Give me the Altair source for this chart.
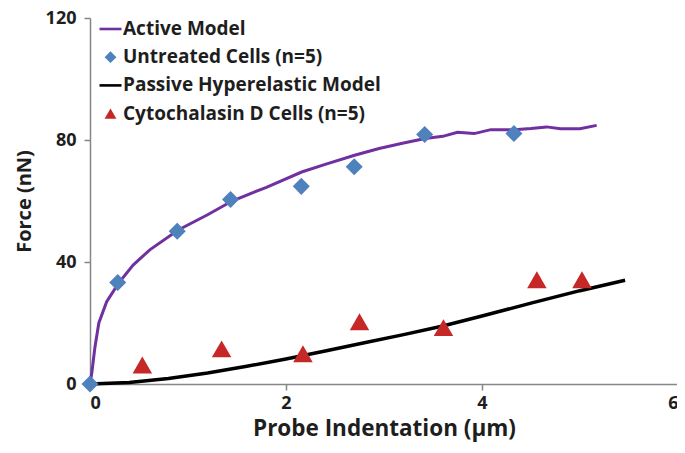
import altair as alt
import pandas as pd

# ---- data ----
series_names = ["Active Model", "Untreated Cells (n=5)",
                "Passive Hyperelastic Model", "Cytochalasin D Cells (n=5)"]

active_x = [0, 0.02, 0.05, 0.09, 0.17, 0.29, 0.44, 0.61, 0.9, 1.2, 1.45, 1.8,
            2.16, 2.4, 2.7, 2.95, 3.2, 3.42, 3.6, 3.75, 3.92, 4.09, 4.33, 4.5,
            4.66, 4.8, 5.0, 5.17]
active_y = [0, 4, 12, 20, 27, 33, 39, 44, 50.5, 55.5, 60, 64.5,
            69.5, 72, 75, 77.2, 79, 80.5, 81.2, 82.5, 82.1, 83.4, 83.4, 83.8,
            84.3, 83.7, 83.7, 84.8]

untreated_x = [0, 0.283, 0.89, 1.434, 2.156, 2.696, 3.415, 4.326]
untreated_y = [0, 33.3, 50.1, 60.5, 64.8, 71.2, 81.8, 82.1]

passive_x = [0, 0.4, 0.8, 1.2, 1.6, 2.0, 2.4, 2.8, 3.2, 3.6, 4.0, 4.5, 5.0, 5.46]
passive_y = [0, 0.5, 1.8, 3.6, 5.8, 8.2, 10.8, 13.5, 16.2, 19.0, 22.3, 26.5, 30.6, 34.0]

cyto_x = [0.534, 1.343, 2.173, 2.75, 3.607, 4.56, 5.02]
cyto_y = [6.25, 11.5, 9.9, 20.4, 18.5, 34.2, 34.2]

x_ticks = [0, 2, 4, 6]
y_ticks = [0, 40, 80, 120]

colors = ["#7030A0", "#4F81BD", "#000000", "#C62828"]
line_path = "M-1.86,-0.22H1.86V0.22H-1.86Z"
shapes = [line_path, "diamond", line_path, "triangle-up"]

FONT = "Open Sans"

active_df = pd.DataFrame({"x": active_x, "y": active_y, "series": series_names[0]})
untreated_df = pd.DataFrame({"x": untreated_x, "y": untreated_y, "series": series_names[1]})
passive_df = pd.DataFrame({"x": passive_x, "y": passive_y, "series": series_names[2]})
cyto_df = pd.DataFrame({"x": cyto_x, "y": cyto_y, "series": series_names[3]})

x_enc = alt.X("x:Q", title="Probe Indentation (µm)",
              scale=alt.Scale(domain=[0, 6], nice=False),
              axis=alt.Axis(values=x_ticks, grid=False, titlePadding=5,
                            labelPadding=4, titleFontSize=22.5))
y_enc = alt.Y("y:Q", title="Force (nN)",
              scale=alt.Scale(domain=[0, 120], nice=False),
              axis=alt.Axis(values=y_ticks, grid=False, titlePadding=11,
                            labelPadding=8, titleFontSize=20))

legend = alt.Legend(title=None, orient="none", legendX=11, legendY=1.5,
                    labelFont=FONT, labelFontSize=19, labelFontWeight="bold",
                    labelColor="#1e1e1e", symbolSize=140, symbolStrokeWidth=0,
                    rowPadding=8.2, labelOffset=3, padding=0, symbolOpacity=1,
                    labelLimit=0)

color_enc = alt.Color("series:N",
                      scale=alt.Scale(domain=series_names, range=colors),
                      legend=legend)
shape_enc = alt.Shape("series:N",
                      scale=alt.Scale(domain=series_names, range=shapes),
                      legend=legend)

diamonds = alt.Chart(untreated_df).mark_point(filled=True, size=290, opacity=1).encode(
    x=x_enc, y=y_enc, color=color_enc, shape=shape_enc)
triangles = alt.Chart(cyto_df).mark_point(filled=True, size=380, opacity=1).encode(
    x=x_enc, y=y_enc, color=color_enc, shape=shape_enc)
active_line = alt.Chart(active_df).mark_line(strokeWidth=3).encode(
    x=x_enc, y=y_enc, color=color_enc)
passive_line = alt.Chart(passive_df).mark_line(strokeWidth=3.5).encode(
    x=x_enc, y=y_enc, color=color_enc)

chart = alt.layer(active_line, passive_line, triangles, diamonds).properties(
    width=588, height=366,
    padding={"left": 82, "top": 10, "right": -1, "bottom": 60},
    autosize="none",
).configure_view(stroke=None).configure_axis(
    domainColor="#868686", domainWidth=1.5, tickColor="#868686", tickWidth=1.5,
    tickSize=6, labelFont=FONT, labelFontSize=18, labelFontWeight="bold",
    labelColor="#1e1e1e", titleFont=FONT, titleFontWeight="bold",
    titleColor="#1e1e1e",
)

chart.save("out.html", embed_options={"renderer": "svg", "actions": False})
